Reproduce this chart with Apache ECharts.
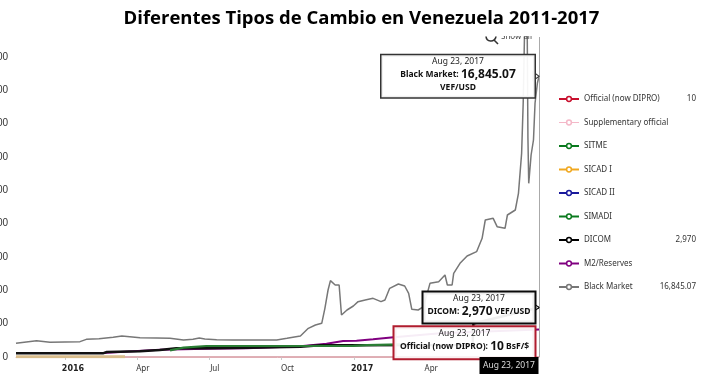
<!DOCTYPE html>
<html><head><meta charset="utf-8">
<style>html,body{margin:0;padding:0;background:#fff}#c{width:723px;height:381px}</style>
<script src="https://cdn.jsdelivr.net/npm/echarts@6/dist/echarts.min.js"></script>
</head><body><div id="c"></div>
<script>
const titleText = 'Diferentes Tipos de Cambio en Venezuela 2011-2017';
const lastDate = '2017-08-23';
const yTicks = [0,2000,4000,6000,8000,10000,12000,14000,16000,18000];
const xTickDates = ['2016-01-01','2016-04-01','2016-07-01','2016-10-01','2017-01-01','2017-04-01'];
const xTickLabels = ['2016','Apr','Jul','Oct','2017','Apr'];
const seriesNames = ['Official (now DIPRO)','Supplementary official','SITME','SICAD I','SICAD II','SIMADI','DICOM','M2/Reserves','Black Market'];
const legendValues = ['10','','','','','','2,970','','16,845.07'];
const legendColors = ['#c8102e','#f4b8c8','#0a7a1e','#f0a820','#1a1a9c','#0a7a1e','#000000','#800080','#777777'];

const official = [['2015-10-31',6.3],['2016-03-10',10],['2017-08-23',10]];
const supplementary = [['2015-10-31',13.5],['2016-03-10',13.5]];
const sitme = [];
const sicad1 = [['2015-10-31',13.5],['2016-03-17',13.5]];
const sicad2 = [];
const simadi = [['2016-05-13',400],['2016-05-30',560],['2016-06-28',660],['2016-12-31',670],['2017-01-17',710],['2017-03-01',760]];
const dicom = [['2015-10-31',220],['2016-02-18',220],['2016-02-23',300],['2016-04-05',340],['2016-04-30',420],['2016-05-21',520],['2016-06-28',520],['2016-08-18',560],['2016-10-25',620],['2016-11-19',700],['2016-11-27',710],['2017-05-31',727],['2017-06-01',2010],['2017-07-25',2640],['2017-08-23',2970]];
const m2 = [['2015-10-31',240],['2016-02-18',240],['2016-04-30',440],['2016-06-28',490],['2016-08-18',530],['2016-09-20',580],['2016-10-25',640],['2016-11-27',800],['2016-12-18',960],['2017-01-04',980],['2017-01-25',1060],['2017-02-20',1180],['2017-04-20',1420],['2017-08-23',1650]];
const blackMarket = [['2015-10-31',820],['2015-11-13',900],['2015-11-26',980],['2015-12-13',880],['2016-01-20',920],['2016-01-28',1060],['2016-02-13',1100],['2016-03-02',1180],['2016-03-13',1260],['2016-03-23',1220],['2016-04-05',1160],['2016-04-26',1140],['2016-05-13',1120],['2016-05-30',1020],['2016-06-11',1060],['2016-06-19',1140],['2016-06-26',1080],['2016-07-11',1040],['2016-08-01',1020],['2016-09-25',1020],['2016-10-08',1120],['2016-10-25',1260],['2016-11-04',1720],['2016-11-13',1920],['2016-11-21',2020],['2016-11-25',2920],['2016-11-29',4020],['2016-12-02',4580],['2016-12-08',4320],['2016-12-13',4320],['2016-12-16',2520],['2016-12-23',2820],['2016-12-31',3060],['2017-01-06',3320],['2017-01-15',3420],['2017-01-25',3520],['2017-02-04',3320],['2017-02-09',3420],['2017-02-15',4120],['2017-02-26',4380],['2017-03-06',4260],['2017-03-11',3820],['2017-03-15',2860],['2017-03-23',2820],['2017-03-30',3020],['2017-04-07',4420],['2017-04-18',4520],['2017-04-26',4920],['2017-04-29',4320],['2017-05-05',4320],['2017-05-07',5020],['2017-05-15',5620],['2017-05-24',6060],['2017-06-05',6320],['2017-06-12',7120],['2017-06-16',8220],['2017-06-26',8320],['2017-07-01',7820],['2017-07-11',7720],['2017-07-14',8520],['2017-07-24',8820],['2017-07-28',9820],['2017-08-01',12220],['2017-08-03',15240],['2017-08-05',20200],['2017-08-08',20200],['2017-08-09',13120],['2017-08-10',10420],['2017-08-13',12120],['2017-08-16',13020],['2017-08-18',15240],['2017-08-21',16440],['2017-08-23',16845.07]];
const seriesData = [official,supplementary,sitme,sicad1,sicad2,m2,dicom,simadi,blackMarket];
const drawNames = ['Official (now DIPRO)','Supplementary official','SITME','SICAD I','SICAD II','M2/Reserves','DICOM','SIMADI','Black Market'];
const drawStyle = {
  'Official (now DIPRO)':{c:'#cf8a92',w:1},'Supplementary official':{c:'#f4c8d0',w:1},'SITME':{c:'#0a7a1e',w:2},
  'SICAD I':{c:'#d9bd8c',w:3},'SICAD II':{c:'#1a1a9c',w:2},'SIMADI':{c:'#2a7d34',w:2.2},
  'M2/Reserves':{c:'#800080',w:2},'DICOM':{c:'#111111',w:2.5},'Black Market':{c:'#777777',w:1.5}
};
const toTime = s => new Date(s.replace(/-/g,'/')).getTime();
const xTickTimes = xTickDates.map(toTime);
const F = 'Noto Sans, sans-serif';

const boxBase = {show:true,position:'left',distance:4,align:'center',verticalAlign:'middle',color:'#111',fontFamily:F,lineHeight:13};
const rich = {
  d:{fontSize:8.5,color:'#222',fontFamily:F,lineHeight:13,align:'center'},
  b:{fontSize:8.5,fontWeight:'bold',color:'#111',fontFamily:F,lineHeight:13},
  v:{fontSize:12,fontWeight:'bold',color:'#111',fontFamily:F,lineHeight:13}
};
function tip(coord, text, w, h, border, bw, dy){
  return {coord, symbol:'circle', symbolSize:1,
    itemStyle:{color:'transparent'},
    label:Object.assign({},boxBase,{formatter:text,rich,width:w,height:h,backgroundColor:'rgba(255,255,255,0.93)',borderColor:border,borderWidth:bw,offset:[-w/2,dy||0]})};
}
function arrow(coord, border){
  return {coord, symbol:'triangle', symbolSize:[9,6], symbolRotate:-90, symbolOffset:[-3,0],
    itemStyle:{color:'#fff',borderColor:border,borderWidth:1}, label:{show:false}};
}
const markers = [
  arrow([lastDate,16845.07],'#333'),
  arrow([lastDate,2970],'#111'),
  tip([lastDate,16845.07],'{d|Aug 23, 2017}\n{b|Black Market: }{v|16,845.07}\n{b|VEF/USD}',153,42,'#333',1.5),
  tip([lastDate,2970],'{d|Aug 23, 2017}\n{b|DICOM: }{v|2,970}{b| VEF/USD}',111,30,'#0a0a0a',2),
  tip([lastDate,10],'{d|Aug 23, 2017}\n{b|Official (now DIPRO): }{v|10}{b| BsF/$}',140,31,'#b01c2e',2,-14),
  {coord:[lastDate,0],symbol:'circle',symbolSize:1,itemStyle:{color:'transparent'},
   label:{show:true,position:'left',distance:0,formatter:'Aug 23, 2017',width:59,height:17,align:'center',verticalAlign:'middle',lineHeight:17,
     backgroundColor:'#000',color:'#ddd',fontFamily:F,fontSize:8.5,offset:[-29.5,8.5]}}
];

const series = drawNames.map(name=>{
  const st = drawStyle[name];
  const s = {name,type:'line',data:seriesData[drawNames.indexOf(name)].map(p=>[toTime(p[0]),p[1]]),
    symbol:'circle',showSymbol:false,animation:false,silent:true,
    lineStyle:{color:st.c,width:st.w},itemStyle:{color:st.c}};
  if(name==='Black Market'){
    s.markLine = {silent:true,animation:false,symbol:'none',label:{show:false},
      lineStyle:{color:'#aaa',width:1,type:'solid'},data:[{xAxis:toTime(lastDate)}]};
    s.markPoint = {silent:true,animation:false,data:markers.map(m=>Object.assign({},m,{coord:[toTime(m.coord[0]),m.coord[1]]}))};
  }
  return s;
});

const chart = echarts.init(document.getElementById('c'),null,{renderer:'canvas'});
chart.setOption({
  animation:false,
  backgroundColor:'#fff',
  title:{text:titleText,left:'center',top:9,textStyle:{fontFamily:'Open Sans, sans-serif',fontSize:18.5,fontWeight:'bold',color:'#000'},padding:[0,0,0,0]},
  grid:{left:16,right:184,top:37,bottom:24,containLabel:false,outerBoundsMode:'none'},
  xAxis:{type:'value',scale:true,min:toTime('2015-10-31'),max:toTime(lastDate),
    splitLine:{show:false},
    axisLine:{show:true,onZero:false,lineStyle:{color:'#e3b4ba',width:1}},
    axisTick:{show:true,length:3,lineStyle:{color:'#ccc'},customValues:xTickTimes},
    axisLabel:{margin:8,fontSize:8,fontFamily:F,color:'#333',hideOverlap:false,showMinLabel:true,showMaxLabel:true,
      customValues:xTickTimes,
      padding:[0,0,0,12],
      rich:{y:{fontWeight:'bold',fontSize:8,color:'#222',fontFamily:'DejaVu Sans',padding:[0,0,0,4]}},
      formatter:v=>{const t=xTickLabels[xTickTimes.indexOf(v)]||'';return /^\d/.test(t)?'{y|'+t+'}':t;}}
  },
  yAxis:{type:'value',min:0,max:19200,
    splitLine:{show:false},axisLine:{show:false},axisTick:{show:false},
    axisLabel:{margin:8,fontSize:10,fontFamily:'Liberation Sans',color:'#333',customValues:yTicks,
      formatter:v=>v===0?'0':v.toLocaleString('en-US')}},
  legend:{orient:'vertical',left:553,top:90,itemGap:15.5,itemWidth:20,itemHeight:6,selectedMode:false,
    data:seriesNames.map((n,i)=>({name:n,lineStyle:{color:legendColors[i],width:n==='Supplementary official'?1:2},
      itemStyle:{color:'#fff',borderColor:legendColors[i],borderWidth:1.5}})),
    formatter:n=>{const i=seriesNames.indexOf(n);return '{n|'+n+'}{v|'+legendValues[i]+'}';},
    textStyle:{rich:{n:{width:76,fontSize:8,fontFamily:F,color:'#333'},v:{width:36,align:'right',fontSize:8,fontFamily:F,color:'#333'}}}
  },
  series,
  graphic:[
    {type:'rect',shape:{x:480,y:29,width:60,height:7},style:{fill:'#fff'},z:50,silent:true},
    {type:'text',x:501,y:33,z:40,style:{text:'Show all',font:'8px "Noto Sans"',fill:'#444'},silent:true},
    {type:'arc',z:60,silent:true,shape:{cx:491,cy:36,r:5,startAngle:0.1,endAngle:Math.PI-0.1},style:{fill:null,stroke:'#333',lineWidth:1.6}},
    {type:'line',z:60,silent:true,shape:{x1:494,y1:40,x2:498,y2:44},style:{stroke:'#333',lineWidth:1.6}}
  ]
});
</script></body></html>
